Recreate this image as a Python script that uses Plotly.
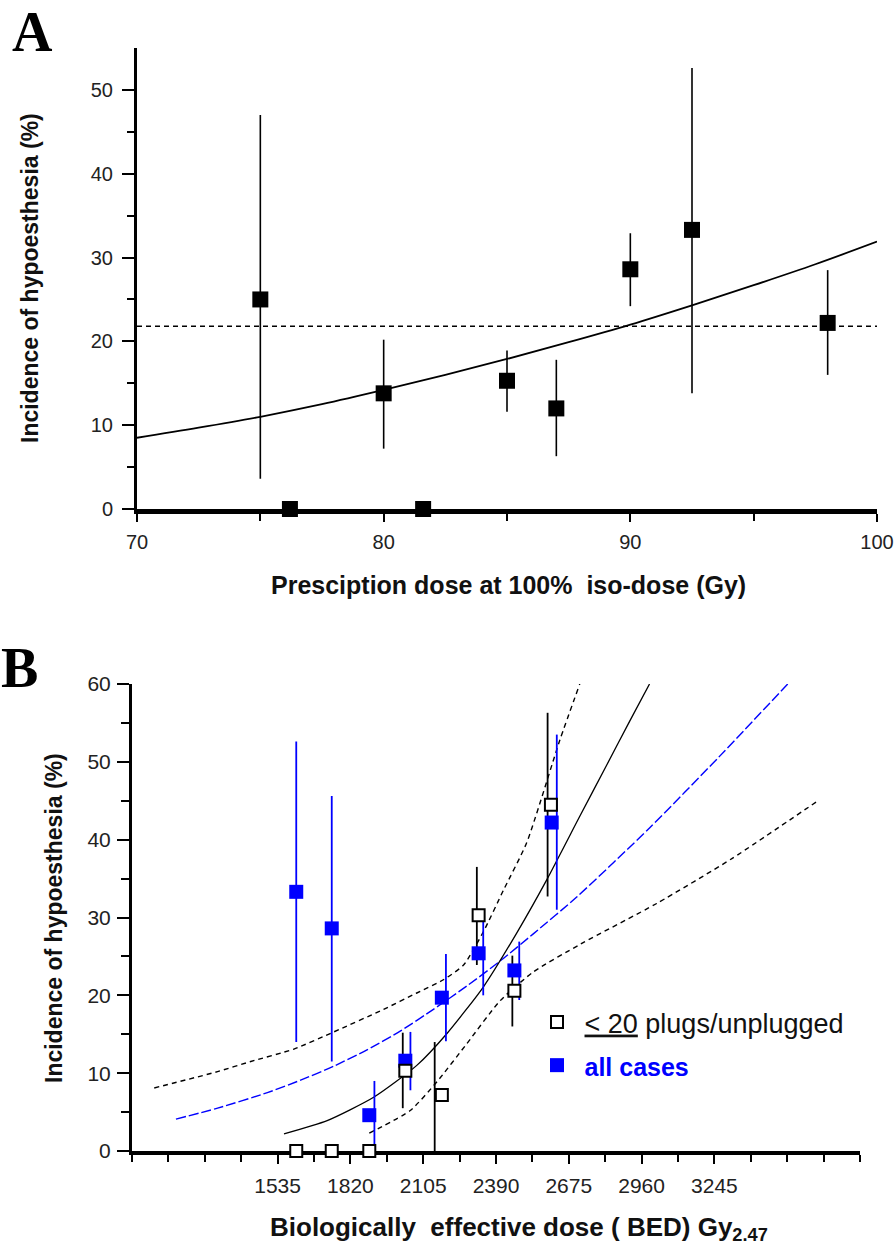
import plotly.graph_objects as go

# ---------------- Panel A data ----------------
a_dose = [75, 76.2, 80, 81.6, 85, 87, 90, 92.5, 98]
a_inc = [25.0, 0, 13.8, 0, 15.3, 12.0, 28.6, 33.3, 22.2]
a_err_dose = [75, 80, 85, 87, 90, 92.5, 98]
a_err_mid = [25.0, 13.8, 15.3, 12.0, 28.6, 33.3, 22.2]
a_err_hi = [47.0, 20.2, 18.9, 17.8, 32.9, 52.6, 28.5]
a_err_lo = [3.6, 7.2, 11.6, 6.3, 24.2, 13.8, 16.0]
a_fit_x = [70, 72.5, 75, 77.5, 80, 82.5, 85, 87.5, 90, 92.5, 95, 97.5, 100]
a_fit_y = [8.5, 9.7, 11.0, 12.5, 14.2, 16.0, 17.9, 19.9, 22.0, 24.3, 26.7, 29.2, 31.9]
a_mean_x = [70, 100]
a_mean_y = [21.8, 21.8]
a_xticks = [70, 80, 90, 100]
a_yticks = [0, 10, 20, 30, 40, 50]

# ---------------- Panel B data ----------------
b_all_x = [1608, 1747, 1894, 2035, 2178, 2322, 2462, 2608]
b_all_y = [33.3, 28.6, 4.6, 11.6, 19.7, 25.4, 23.2, 42.2]
b_all_err_x = [1608, 1747, 1914, 2055, 2194, 2340, 2481, 2628]
b_all_hi = [52.6, 45.6, 9.0, 15.3, 25.3, 30.0, 26.9, 53.5]
b_all_lo = [14.0, 11.5, 0.0, 7.8, 14.1, 20.0, 19.4, 31.0]

b_few_x = [1608, 1747, 1894, 2035, 2178, 2322, 2462, 2605]
b_few_y = [0, 0, 0, 10.3, 7.2, 30.3, 20.6, 44.5]
b_few_err_x = [2025, 2150, 2315, 2454, 2592]
b_few_err_mid = [10.3, 7.2, 30.3, 20.6, 44.5]
b_few_hi = [15.2, 14.0, 36.5, 25.1, 56.3]
b_few_lo = [5.5, 0.0, 23.9, 16.0, 32.7]

b_fit_few_x = [1560, 1729, 1911, 2080, 2198, 2341, 2471, 2588, 2718, 2822, 2913, 2991]
b_fit_few_y = [2.2, 3.9, 6.9, 11.0, 15.1, 21.1, 28.0, 34.8, 43.0, 49.5, 55.2, 60.0]

b_fit_all_x = [1137, 1300, 1495, 1625, 1755, 1885, 2015, 2145, 2276, 2406, 2536, 2705, 2991, 3265, 3532]
b_fit_all_y = [4.1, 5.5, 7.5, 9.1, 10.9, 13.0, 15.4, 18.2, 21.2, 24.4, 27.9, 32.6, 41.5, 50.7, 60.0]

b_ci_up_x = [1052, 1300, 1430, 1599, 1755, 1950, 2080, 2184, 2263, 2341, 2419, 2510, 2640, 2718]
b_ci_up_y = [8.1, 10.2, 11.5, 13.1, 15.3, 18.2, 20.3, 22.0, 23.9, 28.2, 33.5, 39.6, 52.8, 60.0]

b_ci_lo_x = [1894, 2054, 2159, 2276, 2406, 2536, 2722, 3019, 3315, 3655]
b_ci_lo_y = [2.3, 5.2, 8.9, 13.8, 19.3, 23.0, 26.6, 31.8, 37.6, 45.1]

b_xticks = [1535, 1820, 2105, 2390, 2675, 2960, 3245]
b_yticks = [0, 10, 20, 30, 40, 50, 60]

FONT = "Liberation Sans, Arial, Helvetica, sans-serif"
BLUE = "#0000FF"
W, H = 894, 1254

fig = go.Figure()

# ---- Panel A traces ----
fig.add_trace(go.Scatter(x=a_fit_x, y=a_fit_y, mode="lines", line=dict(color="black", width=1.8, shape="spline"),
                         xaxis="x", yaxis="y", showlegend=False, hoverinfo="skip"))
fig.add_trace(go.Scatter(x=a_mean_x, y=a_mean_y, mode="lines", line=dict(color="black", width=1.5, dash="5px,4px"),
                         xaxis="x", yaxis="y", showlegend=False, hoverinfo="skip"))
fig.add_trace(go.Scatter(
    x=a_err_dose, y=a_err_mid, mode="markers", marker=dict(size=1, color="rgba(0,0,0,0)"),
    error_y=dict(type="data", symmetric=False,
                 array=[h - m for h, m in zip(a_err_hi, a_err_mid)],
                 arrayminus=[m - l for m, l in zip(a_err_mid, a_err_lo)],
                 color="black", thickness=1.6, width=0),
    xaxis="x", yaxis="y", showlegend=False, cliponaxis=False))
fig.add_trace(go.Scatter(x=a_dose, y=a_inc, mode="markers",
                         marker=dict(symbol="square", size=16, color="black"),
                         xaxis="x", yaxis="y", showlegend=False, cliponaxis=False))

# ---- Panel B traces ----
fig.add_trace(go.Scatter(x=b_ci_up_x, y=b_ci_up_y, mode="lines",
                         line=dict(color="black", width=1.4, dash="5px,4px", shape="spline", smoothing=0.6),
                         xaxis="x2", yaxis="y2", showlegend=False, hoverinfo="skip"))
fig.add_trace(go.Scatter(x=b_ci_lo_x, y=b_ci_lo_y, mode="lines",
                         line=dict(color="black", width=1.4, dash="5px,4px", shape="spline", smoothing=0.6),
                         xaxis="x2", yaxis="y2", showlegend=False, hoverinfo="skip"))
fig.add_trace(go.Scatter(x=b_fit_all_x, y=b_fit_all_y, mode="lines",
                         line=dict(color=BLUE, width=1.4, dash="10px,3px", shape="spline", smoothing=0.6),
                         xaxis="x2", yaxis="y2", showlegend=False, hoverinfo="skip"))
fig.add_trace(go.Scatter(x=b_fit_few_x, y=b_fit_few_y, mode="lines",
                         line=dict(color="black", width=1.3, shape="spline", smoothing=0.6),
                         xaxis="x2", yaxis="y2", showlegend=False, hoverinfo="skip"))
fig.add_trace(go.Scatter(
    x=b_few_err_x, y=b_few_err_mid, mode="markers", marker=dict(size=1, color="rgba(0,0,0,0)"),
    error_y=dict(type="data", symmetric=False,
                 array=[h - m for h, m in zip(b_few_hi, b_few_err_mid)],
                 arrayminus=[m - l for m, l in zip(b_few_err_mid, b_few_lo)],
                 color="black", thickness=1.8, width=0),
    xaxis="x2", yaxis="y2", showlegend=False, cliponaxis=False))
fig.add_trace(go.Scatter(
    x=b_all_err_x, y=b_all_y, mode="markers", marker=dict(size=1, color="rgba(0,0,0,0)"),
    error_y=dict(type="data", symmetric=False,
                 array=[h - m for h, m in zip(b_all_hi, b_all_y)],
                 arrayminus=[m - l for m, l in zip(b_all_y, b_all_lo)],
                 color=BLUE, thickness=1.8, width=0),
    xaxis="x2", yaxis="y2", showlegend=False, cliponaxis=False))
fig.add_trace(go.Scatter(x=b_all_x, y=b_all_y, mode="markers",
                         name="\u00a0<span style='color:#0000FF;font-size:25px'><b>all cases</b></span>",
                         marker=dict(symbol="square", size=14, color=BLUE),
                         xaxis="x2", yaxis="y2", showlegend=True, legendrank=2,
                         legendgroup="g2", cliponaxis=False))
fig.add_trace(go.Scatter(x=b_few_x, y=b_few_y, mode="markers",
                         name="\u00a0<u>&lt; 20</u> plugs/unplugged",
                         marker=dict(symbol="square", size=12, color="white", line=dict(color="black", width=2)),
                         xaxis="x2", yaxis="y2", showlegend=True, legendrank=1,
                         legendgroup="g1", cliponaxis=False))

tickfont_a = dict(family=FONT, size=20, color="#222222")
tickfont_b = dict(family=FONT, size=21, color="#222222")

common_axis = dict(showgrid=False, zeroline=False, showline=True, linecolor="black", automargin=False,
                   ticks="outside", tickcolor="black", fixedrange=True)

fig.update_layout(
    width=W, height=H, autosize=False,
    margin=dict(l=0, r=0, t=0, b=0, pad=0, autoexpand=False),
    paper_bgcolor="white", plot_bgcolor="white",
    font=dict(family=FONT, color="#111111"),
    xaxis=dict(domain=[137 / W, 877 / W], range=[70, 100], anchor="y",
               tickmode="array", tickvals=a_xticks, ticklen=8, tickwidth=2, linewidth=5,
               ticklabelstandoff=3, tickfont=tickfont_a,
               minor=dict(tickmode="array", tickvals=[75, 85, 95], ticks="outside", ticklen=7, tickwidth=2, tickcolor="black"),
               **common_axis),
    yaxis=dict(domain=[1 - 509 / H, 1 - 48 / H], range=[0, 55], anchor="x",
               tickmode="array", tickvals=a_yticks, ticklen=12, tickwidth=2, linewidth=3,
               ticklabelstandoff=5, tickfont=tickfont_a,
               minor=dict(tickmode="array", tickvals=[5, 15, 25, 35, 45], ticks="outside", ticklen=7, tickwidth=2, tickcolor="black"),
               **common_axis),
    xaxis2=dict(domain=[132 / W, 860 / W], range=[965, 3815], anchor="y2",
                tickmode="array", tickvals=b_xticks, ticklen=9, tickwidth=2, linewidth=4,
                ticklabelstandoff=4, layer="below traces", tickfont=tickfont_b,
                minor=dict(tickmode="linear", tick0=965, dtick=142.5, ticks="outside", ticklen=7, tickwidth=2, tickcolor="black"),
                **common_axis),
    yaxis2=dict(domain=[1 - 1151 / H, 1 - 684 / H], range=[0, 60], anchor="x2",
                tickmode="array", tickvals=b_yticks, ticklen=12, tickwidth=2, linewidth=3,
                ticklabelstandoff=2, tickfont=tickfont_b,
                minor=dict(tickmode="linear", tick0=5, dtick=10, ticks="outside", ticklen=8, tickwidth=2, tickcolor="black"),
                **common_axis),
    legend=dict(x=537 / W, y=1 - 998 / H, xanchor="left", yanchor="top",
                bgcolor="rgba(0,0,0,0)", font=dict(family=FONT, size=27, color="#111111"),
                traceorder="grouped", tracegroupgap=5, itemclick=False, itemdoubleclick=False),
    showlegend=True,
)

ann_font = dict(family=FONT, size=23, color="#111111")
xt_font = dict(family=FONT, size=25, color="#111111")
annotations = [
    dict(text="<b>A</b>", x=32 / W, y=1 - 32 / H, xanchor="center", yanchor="middle",
         xref="paper", yref="paper", showarrow=False,
         font=dict(family="Liberation Serif, Times New Roman, serif", size=56, color="black")),
    dict(text="<b>B</b>", x=19 / W, y=1 - 668 / H, xanchor="center", yanchor="middle",
         xref="paper", yref="paper", showarrow=False,
         font=dict(family="Liberation Serif, Times New Roman, serif", size=56, color="black")),
    dict(text="<b>Presciption dose at 100%\u00a0 iso-dose (Gy)</b>", x=508 / W, y=1 - 585 / H,
         xanchor="center", yanchor="middle",
         xref="paper", yref="paper", showarrow=False, font=xt_font),
    dict(text="<b>Incidence of hypoesthesia (%)</b>", x=30 / W, y=1 - 278 / H, textangle=-90,
         xanchor="center", yanchor="middle",
         xref="paper", yref="paper", showarrow=False, font=ann_font),
    dict(text="<b>Biologically\u00a0 effective dose (\u00a0BED) Gy<sub>2.47</sub></b>", x=519 / W, y=1 - 1228 / H,
         xanchor="center", yanchor="middle",
         xref="paper", yref="paper", showarrow=False, font=dict(family=FONT, size=26, color="#111111")),
    dict(text="<b>Incidence of hypoesthesia (%)</b>", x=54 / W, y=1 - 918 / H, textangle=-90,
         xanchor="center", yanchor="middle",
         xref="paper", yref="paper", showarrow=False, font=ann_font),
]
fig.update_layout(annotations=annotations)

fig.write_html("out.html",
               post_script="document.body.style.margin='0';document.body.style.padding='0';"
                           "document.documentElement.style.overflow='hidden';")
